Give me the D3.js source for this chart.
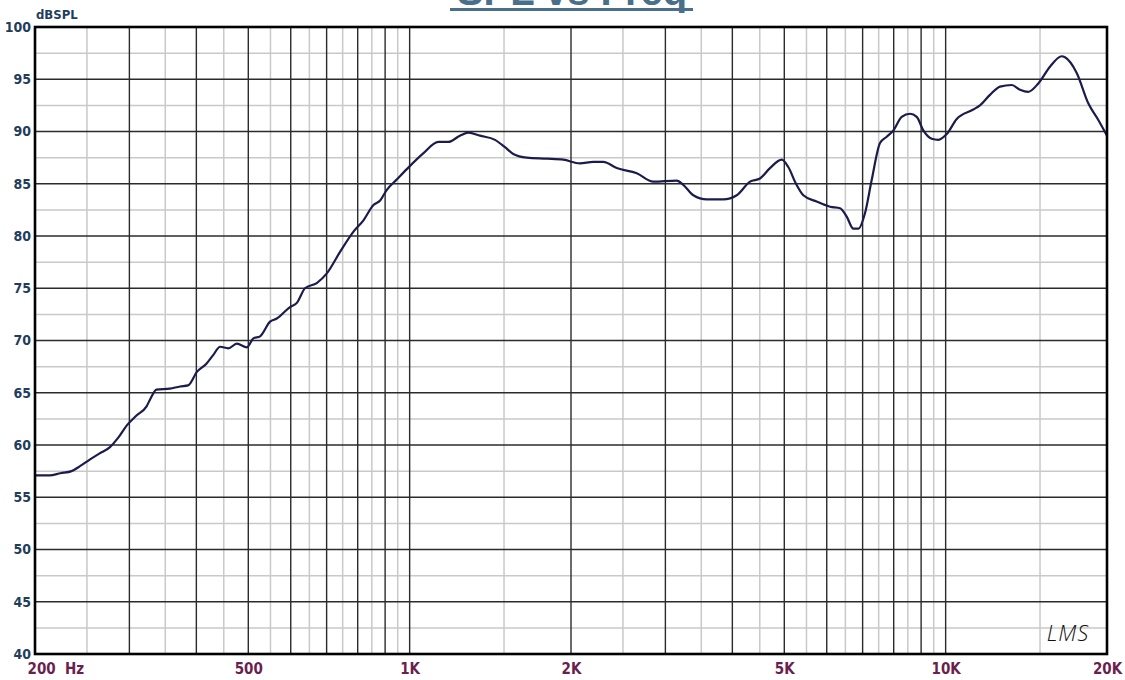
<!DOCTYPE html>
<html><head><meta charset="utf-8">
<script src="https://cdn.jsdelivr.net/npm/d3@7"></script>
<style>body{margin:0;background:#fff}</style>
</head><body><svg id="c" width="1125" height="680"></svg>
<script>
// ---- data ----
const freqs = [200,213,223,234,243,253,264,276,286,297,309,323,329,337,357,373,386,401,418,430,443,459,476,497,511,526,549,565,598,616,638,671,700,742,785,820,856,881,906,946,988,1060,1131,1181,1241,1287,1353,1443,1506,1561,1654,1802,1935,2078,2200,2298,2434,2653,2848,3150,3240,3383,3584,3848,4076,4315,4504,4702,4946,5086,5258,5426,5745,6086,6354,6538,6726,6871,7073,7278,7543,7764,7987,8280,8581,8832,9086,9420,9692,10046,10488,11260,11588,12098,12630,13282,13764,14264,14890,15656,16466,16700,17560,18454,19268,20000];
const spl   = [57.1,57.1,57.3,57.5,58.0,58.6,59.2,59.8,60.7,61.9,62.8,63.7,64.5,65.3,65.4,65.6,65.7,67.0,67.8,68.6,69.4,69.25,69.7,69.35,70.2,70.4,71.8,72.1,73.2,73.6,75.0,75.5,76.4,78.5,80.4,81.5,82.97,83.4,84.4,85.4,86.4,87.9,89.0,89.0,89.6,89.9,89.6,89.2,88.5,87.85,87.5,87.4,87.3,86.95,87.1,87.1,86.5,86.0,85.2,85.3,84.9,83.9,83.5,83.5,83.9,85.2,85.5,86.5,87.3,86.6,85.0,83.9,83.3,82.8,82.65,81.85,80.7,80.7,82.2,85.35,88.9,89.5,90.1,91.4,91.7,91.4,90.1,89.3,89.2,89.75,91.2,92.1,92.5,93.5,94.3,94.45,94.0,93.8,94.6,96.2,97.2,97.1,95.6,92.7,91.1,89.6];

const yTicks  = [40,45,50,55,60,65,70,75,80,85,90,95,100];
const yMinor  = [42.5,47.5,52.5,57.5,62.5,67.5,72.5,77.5,82.5,87.5,92.5,97.5];
const xMajor  = [300,400,500,600,700,800,900,1000,2000,3000,4000,5000,6000,7000,8000,9000,10000];
const xMinor  = [250,350,450,550,650,750,850,950,1500,2500,3500,4500,5500,6500,7500,8500,9500,15000];
const xLabelValues = [200,500,1000,2000,5000,10000,20000];
const xLabelText   = ["200\u00a0\u00a0Hz","500","1K","2K","5K","10K","20K"];
const titleText = "SPL vs Freq";
const yUnit = "dBSPL";

// ---- layout ----
const L = 35, R = 1107, T = 27, B = 654;
const svg = d3.select("#c");
const x = d3.scaleLog().domain([200, 20000]).range([L, R]);
const y = d3.scaleLinear().domain([40, 100]).range([B, T]);
const FONT = "'Liberation Sans Narrow','Arial Narrow','DejaVu Sans Condensed',sans-serif";

// title (cut off at the top edge, as in the reference)
svg.append("text").attr("x", 572).attr("y", 5).attr("text-anchor", "middle")
  .attr("font-family", "'Liberation Sans',Arial,sans-serif").attr("font-weight", "bold")
  .attr("font-size", 40).attr("fill", "#4a6f8a").text(titleText);
svg.append("rect").attr("x", 450).attr("y", 8).attr("width", 243).attr("height", 3).attr("fill", "#4a6f8a");

// minor grid
const g = svg.append("g");
g.selectAll(".hm").data(yMinor).join("line")
  .attr("x1", L).attr("x2", R).attr("y1", d => y(d)).attr("y2", d => y(d))
  .attr("stroke", "#c9c9c9").attr("stroke-width", 1.5);
g.selectAll(".vm").data(xMinor).join("line")
  .attr("y1", T).attr("y2", B).attr("x1", d => x(d)).attr("x2", d => x(d))
  .attr("stroke", "#c9c9c9").attr("stroke-width", 1.5);
// major grid
g.selectAll(".hM").data(yTicks.slice(1, -1)).join("line")
  .attr("x1", L).attr("x2", R).attr("y1", d => y(d)).attr("y2", d => y(d))
  .attr("stroke", "#2b2b2b").attr("stroke-width", 1.6);
g.selectAll(".vM").data(xMajor).join("line")
  .attr("y1", T).attr("y2", B).attr("x1", d => x(d)).attr("x2", d => x(d))
  .attr("stroke", "#2b2b2b").attr("stroke-width", 1.4);

// curve
svg.append("path").datum(freqs.map((f, i) => [f, spl[i]]))
  .attr("fill", "none").attr("stroke", "#1c1c4c").attr("stroke-width", 2.2)
  .attr("stroke-linejoin", "round")
  .attr("d", d3.line().x(d => x(d[0])).y(d => y(d[1])).curve(d3.curveMonotoneX));

// border
svg.append("rect").attr("x", L).attr("y", T).attr("width", R - L).attr("height", B - T)
  .attr("fill", "none").attr("stroke", "#000").attr("stroke-width", 2.6);

// y axis labels
const ya = svg.append("g").attr("transform", `translate(${L},0)`)
  .call(d3.axisLeft(y).tickValues(yTicks).tickSize(0).tickPadding(4));
ya.select(".domain").remove();
ya.selectAll("text").attr("font-family", FONT).attr("font-weight", "bold")
  .attr("font-size", 14).attr("fill", "#1f3d5c");

// x axis labels
const xa = svg.append("g").attr("transform", `translate(0,${B})`)
  .call(d3.axisBottom(x).tickValues(xLabelValues).tickSize(0).tickPadding(9)
    .tickFormat((d, i) => xLabelText[i]));
xa.select(".domain").remove();
xa.selectAll("text").attr("font-family", FONT).attr("font-weight", "bold")
  .attr("font-size", 15).attr("fill", "#6b1f4f");
xa.selectAll("text").filter(d => d === 200).attr("text-anchor", "start").attr("dx", -8);

// unit label
svg.append("text").attr("x", 36).attr("y", 18.5).attr("font-family", FONT)
  .attr("font-weight", "bold").attr("font-size", 13).attr("fill", "#1f3d5c").text(yUnit);

// LMS mark (handwritten look)
svg.append("text").attr("x", 1068).attr("y", 641).attr("text-anchor", "middle")
  .attr("font-family", "'Open Sans','DejaVu Sans',sans-serif").attr("font-style", "italic")
  .attr("font-weight", 300).attr("font-size", 22).attr("letter-spacing", 1)
  .attr("fill", "#111").text("LMS");
</script></body></html>
